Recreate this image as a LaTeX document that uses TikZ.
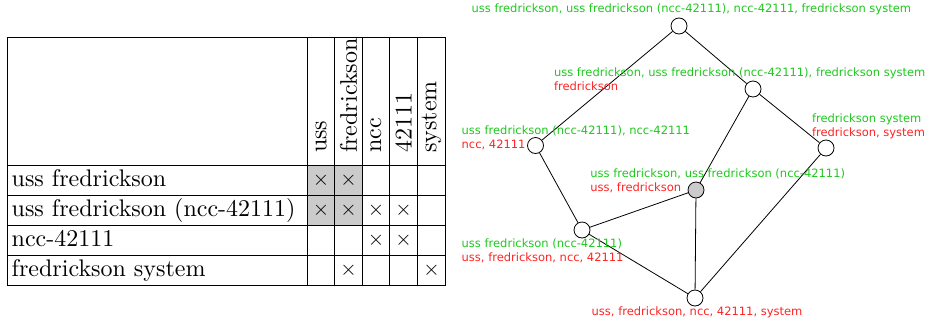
\documentclass[tikz,border=0pt]{standalone}
\usepackage{fontspec}
\usepackage{graphicx}
\newfontfamily\latfont{DejaVu Sans}
\definecolor{lgreen}{RGB}{30,200,30}
\definecolor{lred}{RGB}{255,35,35}
\definecolor{cellgray}{RGB}{203,203,203}
\newcommand\tbx[1]{\scalebox{2.4}{#1}}
\newcommand\xmk{\scalebox{2.1}{$\times$}}
\begin{document}
\begin{tikzpicture}[x=1pt,y=-1pt,
  rowlab/.style={inner sep=0pt,anchor=base west},
  collab/.style={inner sep=0pt,anchor=west,rotate=90},
  cross/.style={inner sep=0pt},
  grid line/.style={line width=0.9pt},
  concept/.style={circle,draw,line width=0.8pt,minimum size=16pt,inner sep=0pt,fill=white},
  grayconcept/.style={concept,fill=cellgray},
  glab/.style={inner sep=0pt,anchor=base west,text=lgreen,font=\latfont\fontsize{11.5}{14}\selectfont},
  rlab/.style={glab,text=lred},
  lnk/.style={line width=0.8pt}
]
\useasboundingbox (0,0) rectangle (926,322);
% ---------- table ----------
\fill[cellgray] (307.5,165) rectangle (362.2,225.3);
\foreach \y in {37.5,165,195,225.3,255.5,285.5}
  \draw[grid line] (7.3,\y) -- (445.7,\y);
\foreach \x in {7.3,307.5,334.7,362.2,389.7,417.5,445.7}
  \draw[grid line] (\x,37.5) -- (\x,285.5);
% column headers
\node[collab] (h1) at (321.1,153) {\tbx{uss}};
\node[collab] (h2) at (348.45,153) {\tbx{fredrickson}};
\node[collab] (h3) at (375.95,153) {\tbx{ncc}};
\node[collab] (h4) at (403.6,153) {\tbx{42111}};
\node[collab] (h5) at (431.5,153) {\tbx{system}};
% row labels
\node[rowlab] (r1) at (11.5,186.3) {\tbx{uss fredrickson}};
\node[rowlab] (r2) at (11.5,216.6) {\tbx{uss fredrickson (ncc-42111)}};
\node[rowlab] (r3) at (11.5,246.8) {\tbx{ncc-42111}};
\node[rowlab] (r4) at (11.5,276.8) {\tbx{fredrickson system}};
% crosses
\node[cross] (x11) at (321.1,180) {\xmk};
\node[cross] (x12) at (348.45,180) {\xmk};
\node[cross] (x21) at (321.1,210.2) {\xmk};
\node[cross] (x22) at (348.45,210.2) {\xmk};
\node[cross] (x23) at (375.95,210.2) {\xmk};
\node[cross] (x24) at (403.6,210.2) {\xmk};
\node[cross] (x33) at (375.95,240.4) {\xmk};
\node[cross] (x34) at (403.6,240.4) {\xmk};
\node[cross] (x42) at (348.45,270.5) {\xmk};
\node[cross] (x45) at (431.5,270.5) {\xmk};
% ---------- lattice ----------
\node[concept] (top) at (679,26) {};
\node[concept] (b) at (753,89) {};
\node[concept] (c) at (535.5,145.5) {};
\node[concept] (d) at (826,148) {};
\node[grayconcept] (e) at (696,190) {};
\node[concept] (f) at (582,230) {};
\node[concept] (g) at (695,298) {};
\draw[lnk] (top) -- (c);
\draw[lnk] (top) -- (b);
\draw[lnk] (b) -- (e);
\draw[lnk] (b) -- (d);
\draw[lnk] (c) -- (f);
\draw[lnk] (e) -- (f);
\draw[lnk] (e) -- (g);
\draw[lnk] (d) -- (g);
\draw[lnk] (f) -- (g);
% labels
\node[glab] (ltop) at (471.5,12.3) {uss fredrickson, uss fredrickson (ncc-42111), ncc-42111, fredrickson system};
\node[glab] (lbg) at (553.8,76) {uss fredrickson, uss fredrickson (ncc-42111), fredrickson system};
\node[rlab] (lbr) at (553.8,90.5) {fredrickson};
\node[glab] (lcg) at (461.5,134) {uss fredrickson (ncc-42111), ncc-42111};
\node[rlab] (lcr) at (461.5,148) {ncc, 42111};
\node[glab] (ldg) at (811.8,122) {fredrickson system};
\node[rlab] (ldr) at (811.8,136) {fredrickson, system};
\node[glab] (leg) at (590.2,177.5) {uss fredrickson, uss fredrickson (ncc-42111)};
\node[rlab] (ler) at (590.2,191.5) {uss, fredrickson};
\node[glab] (lfg) at (461.5,247.7) {uss fredrickson (ncc-42111)};
\node[rlab] (lfr) at (461.5,261.7) {uss, fredrickson, ncc, 42111};
\node[rlab] (lgr) at (591.5,315.7) {uss, fredrickson, ncc, 42111, system};
\end{tikzpicture}
\end{document}
